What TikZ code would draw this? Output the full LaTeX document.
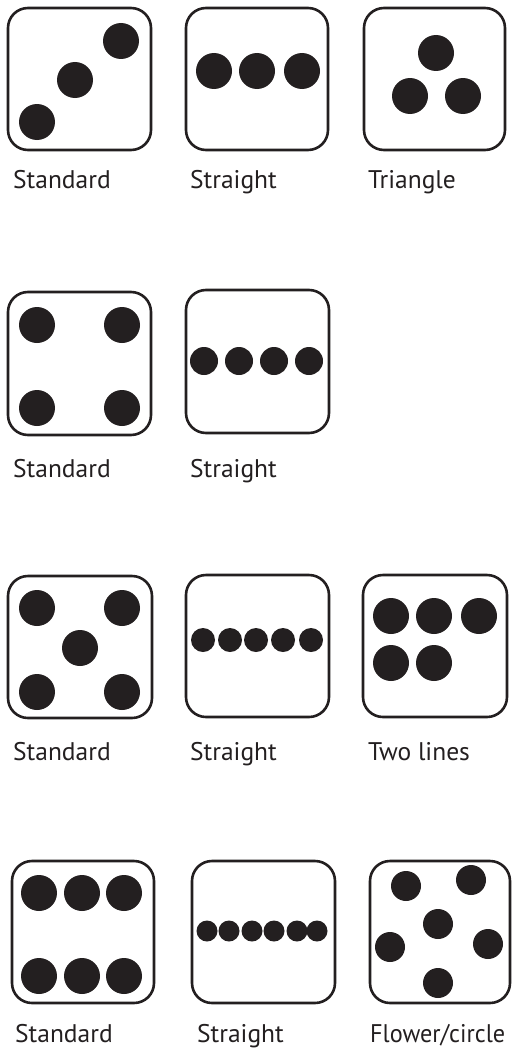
\documentclass[tikz,border=0pt]{standalone}
\usepackage{fontspec}
\setmainfont{PT Sans}
\definecolor{pipblack}{RGB}{35,31,32}
\tikzset{
  die/.style={line width=2.6pt, draw=pipblack, rounded corners=20pt},
  pip/.style={fill=pipblack},
  label/.style={anchor=base west, font=\fontsize{25.5}{30}\selectfont, text=pipblack, inner sep=0pt}
}
\begin{document}
\begin{tikzpicture}[x=1pt, y=-1pt]
        \useasboundingbox (0,0) rectangle (512,1049);

        % Row 1: three
        \draw[die] (8,8) rectangle (151,150);
        \fill[pip] (37,122) circle (18) (75,80) circle (18) (121,41) circle (18);
        \draw[die] (186,8) rectangle (328,150);
        \foreach \x in {214,257,302} \fill[pip] (\x,71) circle (18);
        \draw[die] (364,8) rectangle (505,150);
        \fill[pip] (436,53) circle (18) (410,96) circle (18) (463,96) circle (18);

        \node[label] (threestd) at (13,188) {Standard};
        \node[label] (threestr) at (190,188) {Straight};
        \node[label] (threetri) at (368,188) {Triangle};

        % Row 2: four
        \draw[die] (8,292) rectangle (151,435);
        \fill[pip] (37,325) circle (18) (122,325) circle (18) (37,408) circle (18) (122,408) circle (18);
        \draw[die] (186,290) rectangle (329,433);
        \foreach \x in {204,239,274,309} \fill[pip] (\x,361) circle (14);

        \node[label] (fourstd) at (13,477) {Standard};
        \node[label] (fourstr) at (190,477) {Straight};

        % Row 3: five
        \draw[die] (8,576) rectangle (152,718);
        \fill[pip] (37,608) circle (18) (122,608) circle (18) (80,648) circle (18)
                   (37,692) circle (18) (122,692) circle (18);
        \draw[die] (186,575) rectangle (329,717);
        \foreach \x in {203,230,256,283,311} \fill[pip] (\x,640) circle (12);
        \draw[die] (363,575) rectangle (507,717);
        \fill[pip] (391,616) circle (18) (434,616) circle (18) (479,616) circle (18)
                   (391,663) circle (18) (434,663) circle (18);

        \node[label] (fivestd) at (13,760) {Standard};
        \node[label] (fivestr) at (190,760) {Straight};
        \node[label] (fivetwo) at (368,760) {Two lines};

        % Row 4: six
        \draw[die] (12,861) rectangle (154,1003);
        \foreach \x in {39,82,124} \fill[pip] (\x,893) circle (18) (\x,976) circle (18);
        \draw[die] (192,861) rectangle (335,1003);
        \foreach \x in {207,229,252,274,297,317} \fill[pip] (\x,931) circle (10.5);
        \draw[die] (370,861) rectangle (510,1003);
        \fill[pip] (406,886) circle (15) (471,880) circle (15) (438,924) circle (15)
                   (390,947) circle (15) (488,944) circle (15) (438,983) circle (15);

        \node[label] (sixstd) at (15,1042) {Standard};
        \node[label] (sixstr) at (197,1042) {Straight};
        \node[label, xscale=0.95] (sixflw) at (370,1042) {Flower/circle};
    \end{tikzpicture}
\end{document}
